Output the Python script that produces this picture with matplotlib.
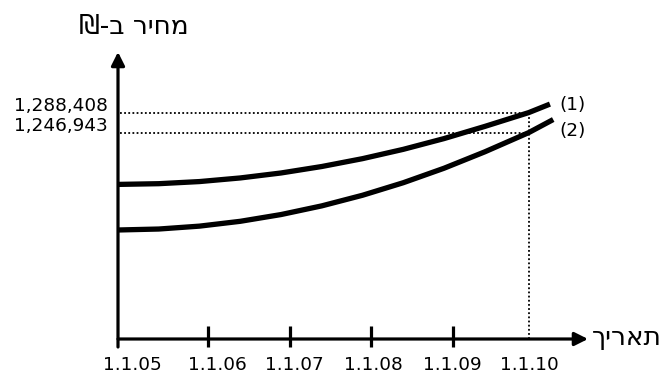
import matplotlib
matplotlib.use('Agg')
import matplotlib.pyplot as plt

# data
dates = ['1.1.05', '1.1.06', '1.1.07', '1.1.08', '1.1.09', '1.1.10']
date_years = [0, 1.11, 2.105, 3.10, 4.105, 5.04]   # years since 1.1.05

years1 = [0, 0.5, 1, 1.5, 2, 2.5, 3, 3.5, 4, 4.5, 5.04, 5.30]
price1 = [1139500, 1141000, 1145400, 1152900, 1163200, 1176600,
          1192900, 1212200, 1234500, 1259700, 1288408, 1306000]
years2 = [0, 0.5, 1, 1.5, 2, 2.5, 3, 3.5, 4, 4.5, 5.04, 5.34]
price2 = [1045000, 1047000, 1053000, 1063000, 1077000, 1095000,
          1117000, 1143000, 1173000, 1207000, 1246943, 1274000]

marked_prices = [1288408, 1246943]
curve_names = ['(1)', '(2)']

# layout (pixels of a 670x376 canvas)
W, H = 670, 376
x0_px, y0_px = 118, 339          # origin
px_per_year = 81.5
price_per_px = 2073.25
price_at_origin = 819000

fig = plt.figure(figsize=(W / 100, H / 100), dpi=100)
ax = fig.add_axes([0, 0, 1, 1])
ax.set_xlim(-x0_px / px_per_year, (W - x0_px) / px_per_year)
ax.set_ylim(price_at_origin - (H - y0_px) * price_per_px,
            price_at_origin + y0_px * price_per_px)
ax.axis('off')

def px_x(p):
    return (p - x0_px) / px_per_year

def px_y(p):
    return price_at_origin + (y0_px - p) * price_per_px

num_font = dict(family='DejaVu Sans', fontsize=13.3, color='black')
heb_font = dict(family=['DejaVu Sans'], fontsize=19, color='black')

# axes with arrows
ax.annotate('', xy=(px_x(588), price_at_origin), xytext=(0, price_at_origin),
            arrowprops=dict(arrowstyle='-|>', mutation_scale=20, lw=2.3,
                            color='black', shrinkA=0, shrinkB=0))
ax.annotate('', xy=(0, px_y(52)), xytext=(0, px_y(347)),
            arrowprops=dict(arrowstyle='-|>', mutation_scale=20, lw=2.3,
                            color='black', shrinkA=0, shrinkB=0))

# ticks (1.1.10 is marked by the dotted line only)
for d in date_years[1:-1]:
    ax.plot([d, d], [px_y(326.5), px_y(347)], color='black', lw=2.3,
            solid_capstyle='butt')

label_shift = [14, 8.5, 5, 3, 0, 1]
for d, lab, s in zip(date_years, dates, label_shift):
    ax.annotate(lab, xy=(d, price_at_origin), xytext=(s * 0.72, -18.5),
                textcoords='offset points', ha='center', va='center',
                **num_font)

# dotted guides
dot = (0, (1, 1.3))
for p in marked_prices:
    ax.plot([px_x(120), date_years[-1]], [p, p], color='black', lw=1.3,
            linestyle=dot)
    ax.annotate(f'{p:,}', xy=(0, p), xytext=(-7.5, 4.5),
                textcoords='offset points', ha='right', va='center',
                **num_font)
ax.plot([date_years[-1], date_years[-1]], [price_at_origin, marked_prices[0]],
        color='black', lw=1.3, linestyle=dot)

# curves
ax.plot(years1, price1, color='black', lw=3.8, solid_joinstyle='round',
        solid_capstyle='butt')
ax.plot(years2, price2, color='black', lw=3.8, solid_joinstyle='round',
        solid_capstyle='butt')

ax.text(px_x(559), px_y(105), curve_names[0], ha='left', va='center', **num_font)
ax.text(px_x(559), px_y(130.5), curve_names[1], ha='left', va='center', **num_font)

# hebrew labels (visual order)
ax.text(px_x(134), px_y(27), '₪-ב ריחמ', ha='center', va='center', **heb_font)
ax.text(px_x(592), px_y(338), 'ךיראת', ha='left', va='center', **heb_font)

fig.savefig('out.png', dpi=100)
